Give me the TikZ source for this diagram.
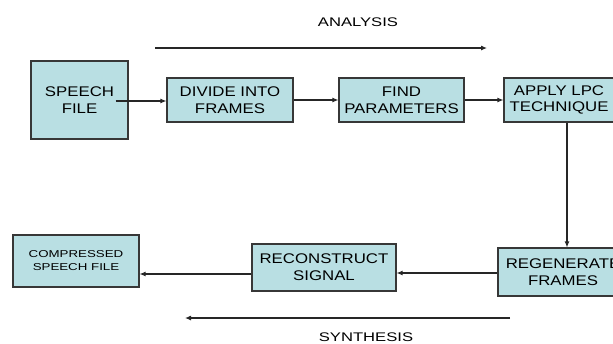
\documentclass[tikz,border=0pt]{standalone}
\usepackage{fontspec}
\setmainfont{Liberation Sans}
\newfontfamily\wide[FakeStretch=1.2]{Liberation Sans}
\newfontfamily\wider[FakeStretch=1.33]{Liberation Sans}
\usetikzlibrary{arrows.meta,calc}
\definecolor{boxfill}{RGB}{185,223,227}
\definecolor{boxline}{RGB}{55,55,55}
\begin{document}
\begin{tikzpicture}[x=1pt,y=-1pt,
  blk/.style={draw=boxline,line width=1.1pt,fill=boxfill,align=center,inner sep=0pt,
    font=\wide\fontsize{14}{16.7}\selectfont},
  con/.style={line width=1.1pt,draw=black!85,-{Latex[length=6pt,width=5pt]}},
  lbl/.style={font=\wider\fontsize{12.5}{15}\selectfont}]
\useasboundingbox (0,0) rectangle (613,343);
\node[blk,minimum width=97pt,minimum height=78pt] (sf) at (79.5,100) {SPEECH\\FILE};
\node[blk,minimum width=126pt,minimum height=44pt] (div) at (230,100) {DIVIDE INTO\\FRAMES};
\node[blk,minimum width=125pt,minimum height=44pt] (find) at (401.5,100) {FIND\\PARAMETERS};
\node[blk,minimum width=110pt,minimum height=44pt] (lpc) at (559,100) {APPLY LPC\\TECHNIQUE};
\node[blk,minimum width=130pt,minimum height=48pt] (regen) at (563,272) {REGENERATE\\FRAMES};
\node[blk,minimum width=144pt,minimum height=47pt] (recon) at (324,267.5) {RECONSTRUCT\\SIGNAL};
\node[blk,minimum width=126pt,minimum height=52pt,font=\wider\fontsize{10}{13}\selectfont] (comp) at (76,261) {COMPRESSED\\SPEECH FILE};
\node[lbl] (an) at (358,22) {ANALYSIS};
\node[lbl] (syn) at (366,337) {SYNTHESIS};
\coordinate (a1) at (155,48);
\coordinate (a2) at (487,48);
\coordinate (s1) at (510,318);
\coordinate (s2) at (185,318);
\coordinate (sfo) at ($(sf.east)+(-13,1)$);
\coordinate (lpco) at ($(lpc.south)+(8,0)$);
\draw[con] (sfo) -- (div.west |- sfo);
\draw[con] (div.east) -- (find.west);
\draw[con] (find.east) -- (lpc.west);
\draw[con] (lpco) -- (lpco |- regen.north);
\draw[con] (regen.west |- 0,273) -- (recon.east |- 0,273);
\draw[con] (recon.west |- 0,274) -- (comp.east |- 0,274);
\draw[con] (a1) -- (a2);
\draw[con] (s1) -- (s2);
\end{tikzpicture}
\end{document}
